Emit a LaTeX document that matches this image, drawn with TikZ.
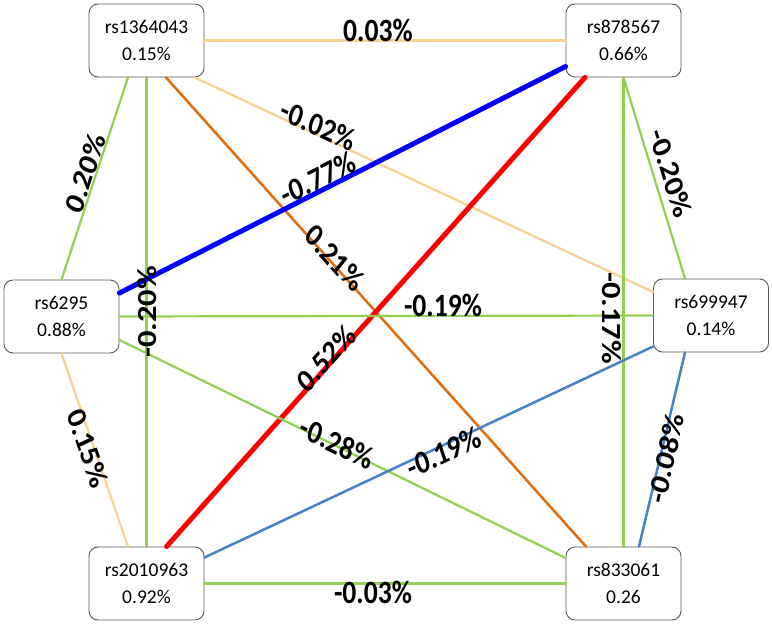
\documentclass[tikz,border=0pt]{standalone}
\usepackage{fontspec}
\setmainfont{Carlito}
\usepackage{tikz}
\definecolor{snpgreen}{RGB}{146,208,80}
\definecolor{snptan}{RGB}{248,208,145}
\definecolor{snporange}{RGB}{228,108,10}
\definecolor{snpblue}{RGB}{0,0,255}
\definecolor{snpred}{RGB}{255,0,0}
\definecolor{snpsteel}{RGB}{70,130,200}
\tikzset{
  snp/.style={draw=black!65,line width=0.9pt,fill=white,rounded corners=9pt,
    minimum width=115pt,minimum height=73pt,align=center,inner sep=0pt,
    font=\fontsize{19.5}{27}\selectfont},
  lbl/.style={font=\fontsize{32.5}{34}\selectfont\bfseries,inner sep=0pt,xscale=0.85},
}

\begin{document}
\begin{tikzpicture}[line cap=round,line join=round,x=1pt,y=-1pt]
\useasboundingbox (0,0) rectangle (772,628);
% snp boxes
\node[snp] (a) at (146.5,40.5) {rs1364043\\0.15\%};
\node[snp] (b) at (623.5,40.5) {rs878567\\0.66\%};
\node[snp] (c) at (61.5,316.5) {rs6295\\0.88\%};
\node[snp] (d) at (711,315.5) {rs699947\\0.14\%};
\node[snp] (e) at (146.5,583.5) {rs2010963\\0.92\%};
\node[snp] (f) at (623.5,583.5) {rs833061\\0.26};
% links
\draw [line width=2.2pt,color=snptan] (a.east)-- (b.west);
\draw [line width=2.2pt,color=snpgreen] ([xshift=-18.5pt]a.south)-- (c.north);
\draw [line width=2.2pt,color=snpgreen] (a.south)-- (e.north);
\draw [line width=2.5pt,color=snporange] ([xshift=19.5pt]a.south)-- ([xshift=-37.5pt]f.north);
\draw [line width=2.2pt,color=snptan] ([xshift=48pt]a.south)-- ([yshift=23.5pt]d.west);
\draw [line width=5pt,color=snpblue] ([yshift=-26pt]b.west)-- ([yshift=23.5pt]c.east);
\draw [line width=5pt,color=snpred] ([xshift=-38.5pt]b.south)-- ([xshift=20pt]e.north);
\draw [line width=2.2pt,color=snpgreen] (b.south)-- (f.north);
\draw [line width=2.2pt,color=snpgreen] (b.south)-- ([xshift=-26pt]d.north);
\draw [line width=2.2pt,color=snpgreen] (c.east)-- (d.west);
\draw [line width=2.2pt,color=snptan] (c.south)-- ([xshift=-18.5pt]e.north);
\draw [line width=2.2pt,color=snpgreen] ([yshift=-23.5pt]c.east)-- ([yshift=25.5pt]f.west);
\draw [line width=2.5pt,color=snpsteel] ([yshift=-31pt]d.west)-- ([yshift=26pt]e.east);
\draw [line width=2.5pt,color=snpsteel] ([xshift=-26pt]d.south)-- ([xshift=15.5pt]f.north);
\draw [line width=2.2pt,color=snpgreen] (e.east)-- (f.west);
% values (rotated, then squeezed sideways)
\node[lbl] (ab) at (378,30) {0.03\%};
\node[lbl,rotate=69] (ac) at (85,173) {0.20\%};
\node[lbl,rotate=90] (ae) at (147,312) {-0.20\%};
\node[lbl,rotate=-43.5] (af) at (335,258) {0.21\%};
\node[lbl,rotate=-21.5] (ad) at (318,125) {-0.02\%};
\node[lbl,rotate=23.5] (bc) at (318,178) {-0.77\%};
\node[lbl,rotate=43.5] (be) at (326,358) {0.52\%};
\node[lbl,rotate=-90] (bf) at (612,318) {-0.17\%};
\node[lbl,rotate=-70] (bd) at (671,173) {-0.20\%};
\node[lbl] (cd) at (443,305) {-0.19\%};
\node[lbl,rotate=-68] (ce) at (88,448) {0.15\%};
\node[lbl,rotate=-22.5] (cf) at (337,443) {-0.28\%};
\node[lbl,rotate=21.5] (de) at (444,452) {-0.19\%};
\node[lbl,rotate=75] (df) at (666,458) {-0.08\%};
\node[lbl] (ef) at (373,592) {-0.03\%};
\end{tikzpicture}
\end{document}
